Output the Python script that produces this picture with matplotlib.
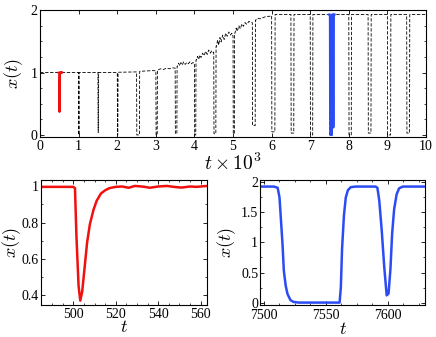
import matplotlib
matplotlib.use("Agg")
import matplotlib.pyplot as plt
import numpy as np
from matplotlib.ticker import MultipleLocator, FormatStrFormatter

plt.rcParams['font.family'] = 'Liberation Serif'
plt.rcParams['mathtext.fontset'] = 'cm'
plt.rcParams['xtick.direction'] = 'in'
plt.rcParams['ytick.direction'] = 'in'
plt.rcParams['xtick.top'] = True
plt.rcParams['ytick.right'] = True

# top trace: slow baseline (t in units of 10^3)
base_t = [0.00, 1.90, 2.10, 2.45,
          2.60, 2.75, 2.90, 2.98,
          3.05, 3.12, 3.20, 3.28, 3.36, 3.44, 3.49,
          3.56, 3.59, 3.62, 3.65, 3.68, 3.72, 3.76, 3.80, 3.84, 3.88, 3.92, 3.96, 3.99,
          4.05, 4.08, 4.11, 4.14, 4.17, 4.21, 4.25, 4.29, 4.33, 4.37, 4.41, 4.45, 4.49,
          4.57, 4.60, 4.63, 4.66, 4.69, 4.73, 4.77, 4.81, 4.85, 4.89, 4.93, 4.97, 4.99,
          5.05, 5.08, 5.11, 5.15, 5.19, 5.23, 5.27, 5.31, 5.36, 5.41, 5.46, 5.50,
          5.59, 5.64, 5.70, 5.78, 5.86, 5.94, 5.99,
          6.10, 10.0]
base_x = [1.00, 1.00, 1.005, 1.01,
          1.02, 1.025, 1.03, 1.03,
          1.04, 1.06, 1.05, 1.07, 1.06, 1.075, 1.07,
          1.10, 1.15, 1.11, 1.16, 1.12, 1.17, 1.13, 1.16, 1.14, 1.17, 1.14, 1.16, 1.15,
          1.20, 1.26, 1.21, 1.28, 1.24, 1.31, 1.27, 1.34, 1.29, 1.36, 1.31, 1.35, 1.32,
          1.42, 1.52, 1.44, 1.56, 1.49, 1.60, 1.53, 1.63, 1.58, 1.65, 1.60, 1.63, 1.59,
          1.63, 1.71, 1.66, 1.75, 1.70, 1.78, 1.74, 1.80, 1.77, 1.82, 1.80, 1.82,
          1.84, 1.87, 1.86, 1.88, 1.90, 1.90, 1.91,
          1.93, 1.93]

# dips: start, end, minimum
dip_t0 = [0.50, 1.00, 1.50, 2.00, 2.50, 3.00, 3.50, 4.00, 4.50, 5.00,
          5.50, 6.00, 6.50, 7.00, 7.50, 8.00, 8.50, 9.00, 9.50]
dip_t1 = [0.51, 1.01, 1.51, 2.02, 2.58, 3.04, 3.55, 4.04, 4.56, 5.04,
          5.58, 6.09, 6.58, 7.07, 7.56, 8.07, 8.58, 9.09, 9.58]
dip_min = [0.37, 0.00, 0.04, 0.00, 0.00, 0.00, 0.02, 0.00, 0.02, 0.02,
           0.15, 0.05, 0.03, 0.00, 0.00, 0.00, 0.03, 0.00, 0.03]

# zoom on the first dip
red_t = [485, 500, 500.8, 501.5, 502.5, 503.3, 504.2, 505.4, 506.5, 507.8,
         509.5, 511, 513, 515, 517, 520, 523, 526, 529, 533,
         536, 540, 544, 548, 551, 555, 558, 563]
red_x = [0.997, 0.997, 0.99, 0.72, 0.45, 0.37, 0.42, 0.56, 0.69, 0.79,
         0.87, 0.92, 0.96, 0.978, 0.99, 0.997, 0.999, 0.992, 1.002, 0.998,
         0.992, 0.999, 1.002, 0.996, 0.993, 0.999, 0.997, 1.002]

# zoom on the 7500 dip
blue_t = [7497, 7508, 7511, 7512.5, 7513.5, 7515, 7516, 7517.5, 7519, 7521.4,
          7524, 7528, 7561, 7562, 7563, 7564.5, 7566, 7567.7, 7570, 7574,
          7590, 7591.5, 7593, 7595, 7597, 7599, 7600.5, 7602, 7603.4, 7605,
          7607, 7609, 7612, 7630]
blue_x = [1.93, 1.93, 1.91, 1.75, 1.43, 0.95, 0.53, 0.28, 0.14, 0.04,
          0.01, 0.0, 0.0, 0.25, 0.9, 1.45, 1.75, 1.87, 1.92, 1.93,
          1.93, 1.91, 1.7, 1.2, 0.6, 0.12, 0.15, 0.55, 1.15, 1.55,
          1.8, 1.9, 1.93, 1.93]


def build_trace():
    bt = np.array(base_t)
    bx = np.array(base_x)
    keep = np.ones(len(bt), bool)
    pts = []
    for t0, t1, m in zip(dip_t0, dip_t1, dip_min):
        keep &= ~((bt >= t0) & (bt <= t1))
        pre = bx[bt < t0][-1]
        post = bx[bt > t1][0]
        pts += [(t0, pre), (t0 + 0.006, m), (t1 - 0.006, m), (t1, post)]
    pts += list(zip(bt[keep], bx[keep]))
    pts.sort()
    return np.array(pts).T


tt, xx = build_trace()

fig = plt.figure(figsize=(4.36, 3.37), dpi=100)
ax1 = fig.add_axes([0.092, 0.594, 0.885, 0.376])
ax2 = fig.add_axes([0.095, 0.095, 0.380, 0.371])
ax3 = fig.add_axes([0.597, 0.095, 0.378, 0.371])

red = '#f01010'
blue = '#2b4cf5'

ax1.plot(tt, xx, color='k', lw=0.6, ls=(0, (4, 2)))
ax1.plot(np.array(red_t) / 1000, red_x, color=red, lw=1.6)
ax1.plot(np.array(blue_t) / 1000, blue_x, color=blue, lw=1.6)
ax1.set_xlim(0, 10)
ax1.set_ylim(-0.03, 2.0)
ax1.xaxis.set_major_locator(MultipleLocator(1))
ax1.yaxis.set_major_locator(MultipleLocator(1))
ax1.yaxis.set_minor_locator(MultipleLocator(0.25))
ax1.set_xlabel(r'$t\times10^3$', fontsize=14, labelpad=0)
ax1.set_ylabel(r'$x(t)$', fontsize=13, labelpad=4)

ax2.plot(red_t, red_x, color=red, lw=1.8)
ax2.set_xlim(485, 563)
ax2.set_ylim(0.346, 1.035)
ax2.xaxis.set_major_locator(MultipleLocator(20))
ax2.xaxis.set_minor_locator(MultipleLocator(5))
ax2.yaxis.set_major_locator(MultipleLocator(0.2))
ax2.yaxis.set_minor_locator(MultipleLocator(0.1))
ax2.yaxis.set_major_formatter(FormatStrFormatter('%g'))
ax2.set_xlabel(r'$t$', fontsize=13, labelpad=-1)
ax2.set_ylabel(r'$x(t)$', fontsize=13, labelpad=-1)

ax3.plot(blue_t, blue_x, color=blue, lw=1.8)
ax3.set_xlim(7497, 7630)
ax3.set_ylim(-0.04, 2.04)
ax3.xaxis.set_major_locator(MultipleLocator(50))
ax3.xaxis.set_minor_locator(MultipleLocator(12.5))
ax3.yaxis.set_major_locator(MultipleLocator(0.5))
ax3.yaxis.set_minor_locator(MultipleLocator(0.25))
ax3.yaxis.set_major_formatter(FormatStrFormatter('%g'))
ax3.set_xlabel(r'$t$', fontsize=13, labelpad=-1)
ax3.set_ylabel(r'$x(t)$', fontsize=13, labelpad=2)

for ax in (ax1, ax2, ax3):
    ax.tick_params(labelsize=10, which='major', length=3, width=0.6, pad=2)
    ax.tick_params(which='minor', length=1.5, width=0.5)
    for s in ax.spines.values():
        s.set_linewidth(0.8)
ax3.tick_params(axis='y', pad=1.5)
ax3.tick_params(axis='x', pad=3)

fig.savefig('out.png', dpi=100)
